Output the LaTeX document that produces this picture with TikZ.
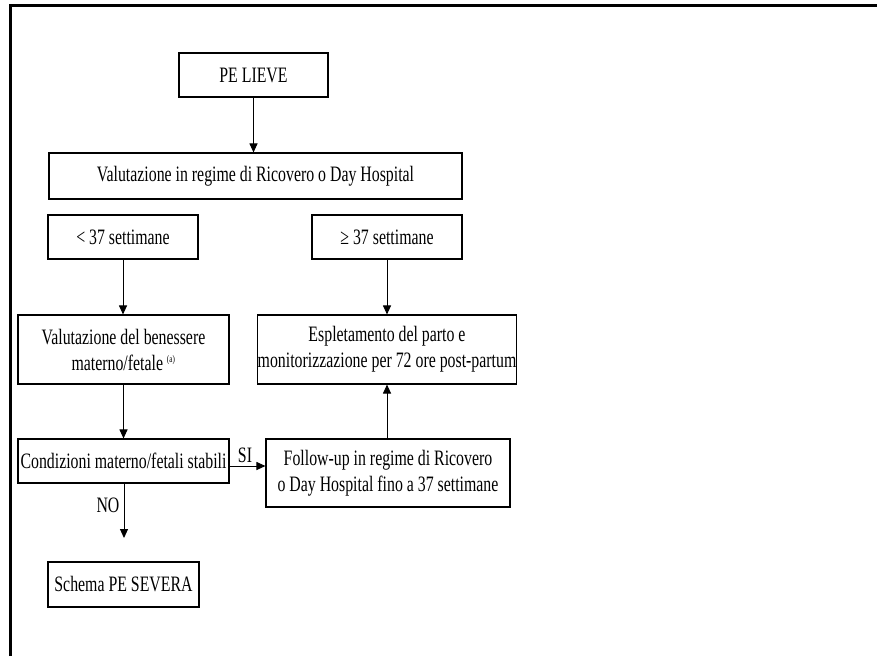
\documentclass[tikz,border=0pt]{standalone}
\usepackage{fontspec}
\setmainfont{Liberation Serif}[FakeStretch=0.72]
\usetikzlibrary{arrows.meta}
\begin{document}
\begin{tikzpicture}[x=1pt,y=-1pt,
  box/.style={draw,line width=1.1pt,rectangle,inner sep=0pt,align=center,font=\fontsize{22}{26}\selectfont},
  arr/.style={line width=1pt,-{Triangle[length=9pt,width=8pt]}},
  lab/.style={font=\fontsize{22}{26}\selectfont,inner sep=0pt}]
\useasboundingbox (0,0) rectangle (877,656);
\draw[line width=3pt] (10,656) -- (10,5) -- (877,5);
\node[box,minimum width=149pt,minimum height=44pt] (pe) at (253.5,75) {PE LIEVE};
\node[box,minimum width=413pt,minimum height=46pt] (val) at (255.5,176) {Valutazione in regime di Ricovero o Day Hospital};
\node[box,minimum width=150pt,minimum height=44pt] (lt) at (123,237) {< 37 settimane};
\node[box,minimum width=150pt,minimum height=44pt] (ge) at (387,237) {≥ 37 settimane};
\node[box,minimum width=211pt,minimum height=69pt] (ben) at (123.5,349.5) {Valutazione del benessere\\materno/fetale \textsuperscript{\fontsize{10}{10}\selectfont(a)}};
\node[box,minimum width=246pt,minimum height=69pt] (esp) at (387,349.5) {Espletamento del parto e\\monitorizzazione per 72 ore post-partum};
\node[box,minimum width=211pt,minimum height=44pt] (cond) at (123.5,461) {Condizioni materno/fetali stabili};
\node[box,minimum width=244pt,minimum height=68pt] (fol) at (388,473) {Follow-up in regime di Ricovero\\o Day Hospital fino a 37 settimane};
\node[box,minimum width=151pt,minimum height=45pt] (sev) at (123.5,584.5) {Schema PE SEVERA};
\coordinate (noend) at (124,538);
\draw[arr] (pe.south) -- (pe.south |- val.north);
\draw[arr] (lt.south) -- (lt.south |- ben.north);
\draw[arr] (ge.south) -- (ge.south |- esp.north);
\draw[arr] (ben.south) -- (ben.south |- cond.north);
\draw[arr] ([yshift=-5pt]cond.east) -- ([yshift=-5pt]cond.east -| fol.west);
\draw[arr] (fol.north -| esp.south) -- (esp.south);
\draw[arr] (cond.south -| noend) -- (noend);
\node[lab] (si) at (245,455) {SI};
\node[lab] (no) at (108,505) {NO};
\end{tikzpicture}
\end{document}
